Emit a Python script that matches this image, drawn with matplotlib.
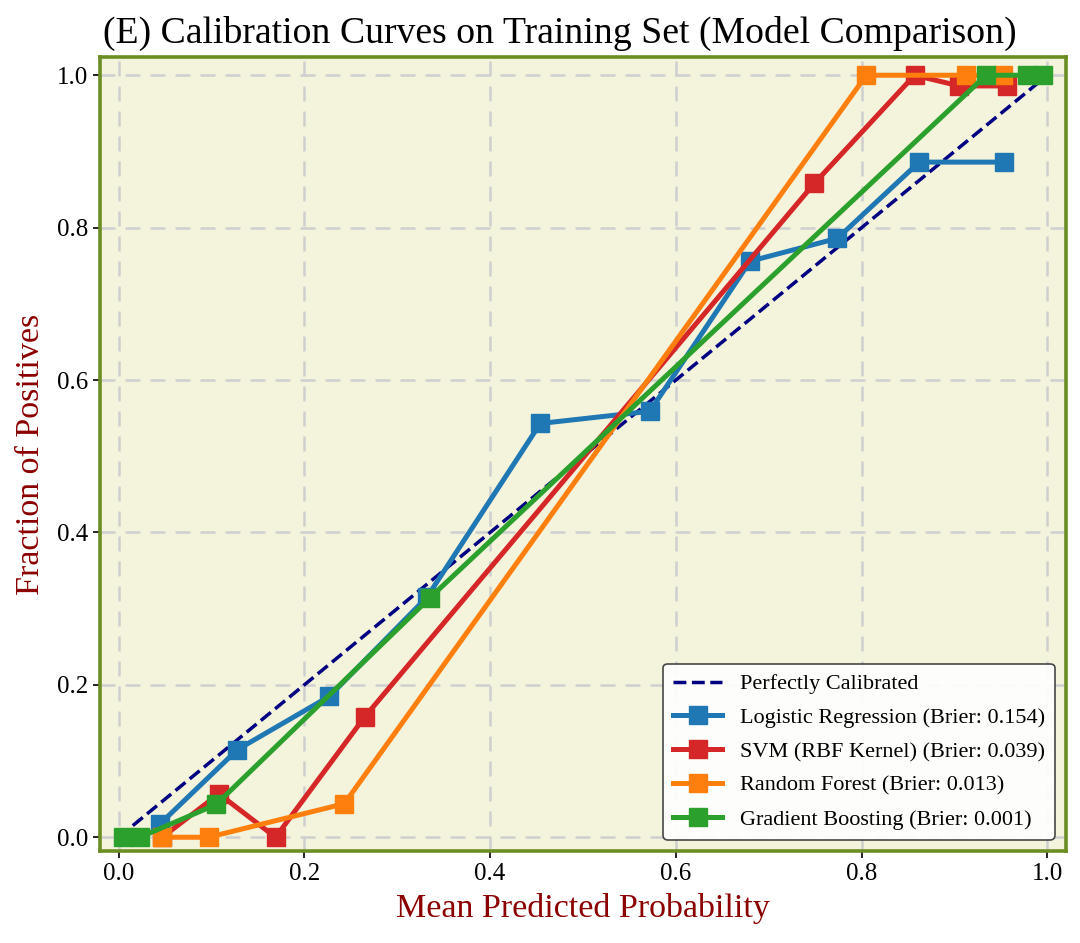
#!/usr/bin/env python3
# -*- coding: utf-8 -*-
"""
Calibration curves on the training set, four models compared.
Writes out.png
"""
import matplotlib
matplotlib.use("Agg")
import matplotlib.pyplot as plt

# Calibration bins (mean predicted prob, fraction of positives)
lr_x = [0.045, 0.128, 0.227, 0.332, 0.454, 0.572, 0.680, 0.774, 0.862, 0.953]
lr_y = [0.018, 0.115, 0.185, 0.315, 0.543, 0.559, 0.756, 0.786, 0.886, 0.886]

svm_x = [0.047, 0.108, 0.169, 0.265, 0.749, 0.857, 0.905, 0.956]
svm_y = [0.000, 0.057, 0.000, 0.158, 0.858, 1.000, 0.986, 0.986]

rf_x = [0.047, 0.097, 0.243, 0.805, 0.912, 0.952]
rf_y = [0.000, 0.000, 0.044, 1.000, 1.000, 1.000]

gb_x = [0.005, 0.023, 0.105, 0.335, 0.934, 0.978, 0.995]
gb_y = [0.000, 0.000, 0.043, 0.314, 1.000, 1.000, 1.000]

labels = [
    "Logistic Regression (Brier: 0.154)",
    "SVM (RBF Kernel) (Brier: 0.039)",
    "Random Forest (Brier: 0.013)",
    "Gradient Boosting (Brier: 0.001)",
]
colors = ["#1f77b4", "#d62728", "#ff7f0e", "#2ca02c"]

plt.rcParams["font.family"] = ["Liberation Serif", "DejaVu Serif"]

fig = plt.figure(figsize=(10.8, 9.43), dpi=100)
ax = fig.add_axes([0.0926, 0.0976, 0.8944, 0.842])
ax.set_facecolor("#f4f4dc")

ax.plot([0, 1], [0, 1], linestyle="--", color="#000080", linewidth=2.5,
        label="Perfectly Calibrated", zorder=3)

series = [(lr_x, lr_y), (svm_x, svm_y), (rf_x, rf_y), (gb_x, gb_y)]
for (xs, ys), lab, col in zip(series, labels, colors):
    ax.plot(xs, ys, marker="s", markersize=13, linewidth=3.6,
            color=col, label=lab, zorder=4)

ax.set_xlim(-0.02, 1.02)
ax.set_ylim(-0.018, 1.024)
ax.set_xticks([0.0, 0.2, 0.4, 0.6, 0.8, 1.0])
ax.set_yticks([0.0, 0.2, 0.4, 0.6, 0.8, 1.0])
ax.tick_params(labelsize=18, length=5, width=1.2)

ax.grid(True, linestyle=(0, (6, 4)), color="#cfcfcf", linewidth=1.8)
ax.set_axisbelow(True)

for sp in ax.spines.values():
    sp.set_color("#6b8e23")
    sp.set_linewidth(2.6)

fig.text(0.5185, 0.965, "(E) Calibration Curves on Training Set (Model Comparison)",
         fontsize=27.2, ha="center", va="center")
ax.set_xlabel("Mean Predicted Probability", fontsize=24.5, color="#8b0000",
              labelpad=6)
ax.set_ylabel("Fraction of Positives", fontsize=24.5, color="#8b0000",
              labelpad=8)

leg = ax.legend(loc="lower right", fontsize=16, frameon=True,
                edgecolor="#333333", framealpha=0.9, fancybox=True,
                handlelength=2.2, borderpad=0.45, labelspacing=0.6)
leg.get_frame().set_linewidth(1.2)

fig.savefig("out.png", dpi=100)
